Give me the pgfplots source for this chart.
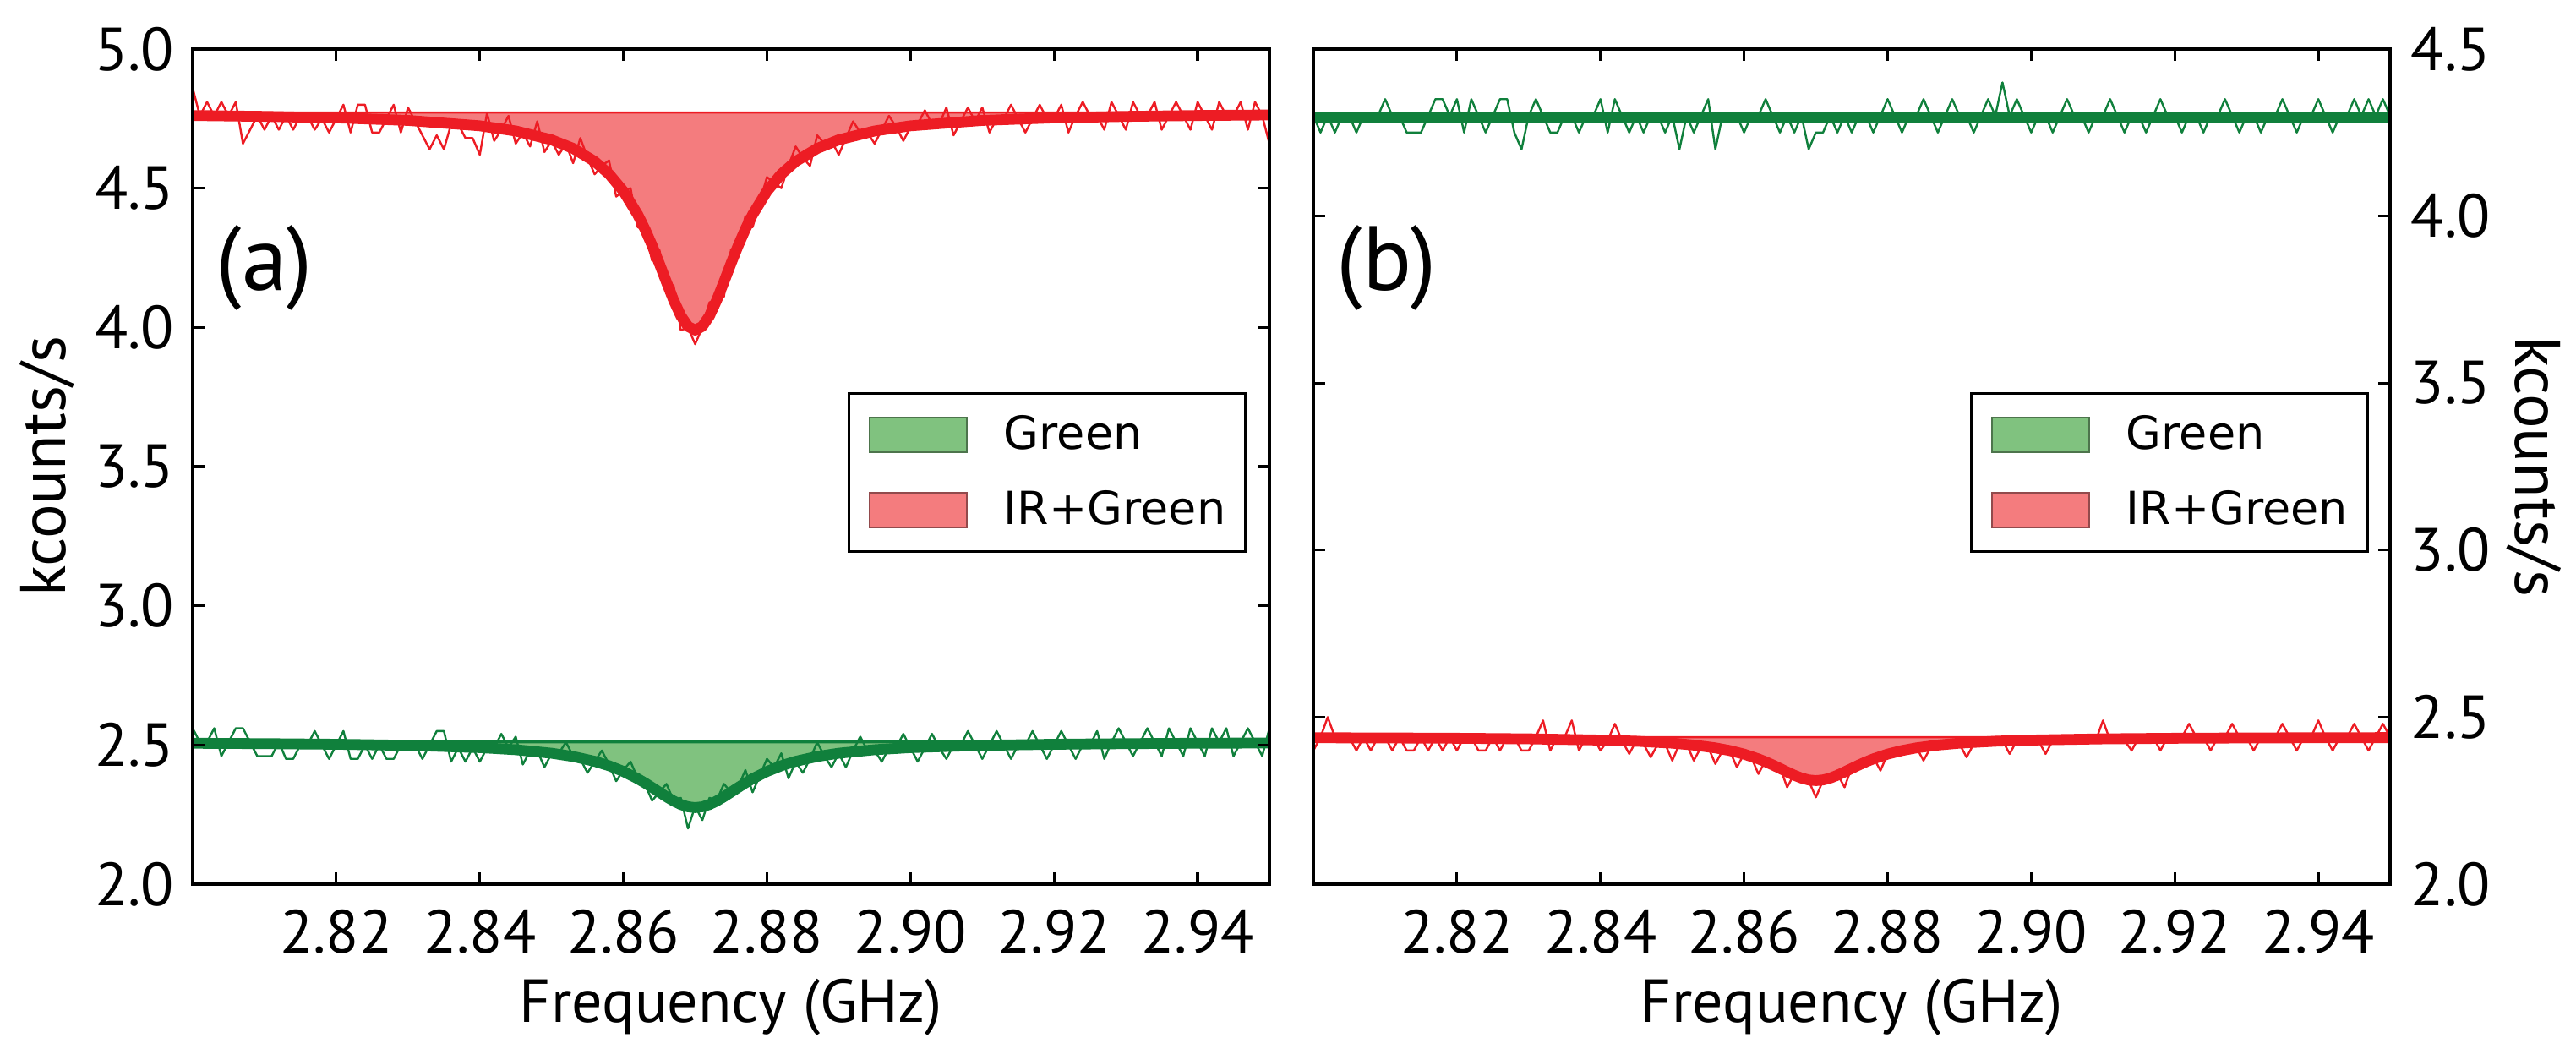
\documentclass[border=0pt]{standalone}
\usepackage{fontspec}
\setmainfont{PT Sans}
\newfontfamily\legendfont{DejaVu Sans}
\usepackage{pgfplots}
\usepackage{pgfplotstable}
\pgfplotsset{compat=1.18}
\definecolor{rline}{RGB}{237,28,36}
\definecolor{gline}{RGB}{16,128,60}
\definecolor{rfill}{RGB}{244,124,126}
\definecolor{gfill}{RGB}{128,194,127}

\pgfplotstableread{
x ra ga rb gb
2.800 4.86 2.56 2.40 4.30
2.801 4.76 2.51 2.44 4.25
2.802 4.81 2.51 2.50 4.30
2.803 4.76 2.56 2.44 4.25
2.804 4.81 2.46 2.44 4.30
2.805 4.76 2.51 2.44 4.30
2.806 4.81 2.56 2.40 4.25
2.807 4.66 2.56 2.44 4.30
2.808 4.71 2.51 2.40 4.30
2.809 4.76 2.46 2.44 4.30
2.810 4.71 2.46 2.44 4.35
2.811 4.76 2.46 2.40 4.30
2.812 4.71 2.51 2.44 4.30
2.813 4.76 2.45 2.40 4.25
2.814 4.71 2.45 2.40 4.25
2.815 4.76 2.50 2.44 4.25
2.816 4.76 2.50 2.40 4.30
2.817 4.71 2.55 2.44 4.35
2.818 4.75 2.50 2.40 4.35
2.819 4.70 2.45 2.44 4.30
2.820 4.75 2.50 2.40 4.35
2.821 4.80 2.55 2.44 4.25
2.822 4.70 2.45 2.44 4.35
2.823 4.80 2.45 2.40 4.30
2.824 4.80 2.50 2.40 4.25
2.825 4.70 2.45 2.44 4.30
2.826 4.70 2.50 2.40 4.35
2.827 4.75 2.45 2.44 4.35
2.828 4.80 2.45 2.44 4.25
2.829 4.70 2.50 2.40 4.20
2.830 4.79 2.50 2.40 4.30
2.831 4.74 2.50 2.44 4.35
2.832 4.69 2.45 2.49 4.30
2.833 4.64 2.50 2.40 4.25
2.834 4.69 2.55 2.44 4.25
2.835 4.64 2.55 2.44 4.30
2.836 4.73 2.44 2.49 4.30
2.837 4.73 2.49 2.40 4.25
2.838 4.68 2.44 2.44 4.30
2.839 4.68 2.49 2.44 4.30
2.840 4.62 2.44 2.40 4.35
2.841 4.77 2.49 2.43 4.25
2.842 4.67 2.49 2.48 4.35
2.843 4.71 2.54 2.43 4.30
2.844 4.76 2.49 2.39 4.25
2.845 4.66 2.53 2.43 4.30
2.846 4.70 2.43 2.42 4.25
2.847 4.65 2.48 2.38 4.30
2.848 4.74 2.48 2.42 4.30
2.849 4.63 2.42 2.42 4.25
2.850 4.67 2.47 2.37 4.30
2.851 4.62 2.47 2.42 4.20
2.852 4.66 2.51 2.42 4.30
2.853 4.59 2.46 2.37 4.25
2.854 4.68 2.45 2.41 4.30
2.855 4.61 2.40 2.41 4.35
2.856 4.55 2.44 2.36 4.20
2.857 4.58 2.48 2.40 4.30
2.858 4.60 2.43 2.40 4.30
2.859 4.47 2.37 2.35 4.30
2.860 4.49 2.41 2.39 4.25
2.861 4.50 2.44 2.38 4.30
2.862 4.36 2.38 2.33 4.30
2.863 4.35 2.36 2.37 4.35
2.864 4.24 2.30 2.36 4.30
2.865 4.28 2.33 2.35 4.25
2.866 4.16 2.36 2.29 4.30
2.867 4.15 2.30 2.33 4.25
2.868 3.99 2.31 2.32 4.30
2.869 4.00 2.20 2.31 4.20
2.870 3.94 2.28 2.26 4.25
2.871 4.00 2.23 2.31 4.25
2.872 4.09 2.31 2.32 4.30
2.873 4.10 2.30 2.33 4.25
2.874 4.11 2.36 2.29 4.30
2.875 4.28 2.33 2.35 4.25
2.876 4.29 2.35 2.36 4.30
2.877 4.40 2.41 2.37 4.30
2.878 4.36 2.33 2.38 4.25
2.879 4.45 2.39 2.34 4.30
2.880 4.54 2.45 2.39 4.35
2.881 4.52 2.42 2.40 4.30
2.882 4.50 2.47 2.40 4.25
2.883 4.58 2.38 2.40 4.30
2.884 4.65 2.44 2.41 4.30
2.885 4.61 2.40 2.37 4.35
2.886 4.58 2.45 2.41 4.30
2.887 4.69 2.51 2.42 4.25
2.888 4.66 2.46 2.42 4.30
2.889 4.67 2.42 2.42 4.35
2.890 4.62 2.47 2.42 4.30
2.891 4.68 2.42 2.38 4.30
2.892 4.74 2.48 2.42 4.25
2.893 4.70 2.53 2.43 4.30
2.894 4.70 2.48 2.43 4.35
2.895 4.66 2.48 2.43 4.30
2.896 4.71 2.44 2.43 4.40
2.897 4.76 2.49 2.39 4.30
2.898 4.72 2.49 2.43 4.35
2.899 4.67 2.54 2.43 4.30
2.900 4.72 2.49 2.43 4.25
2.901 4.73 2.44 2.43 4.30
2.902 4.78 2.49 2.39 4.30
2.903 4.73 2.54 2.43 4.25
2.904 4.73 2.49 2.43 4.30
2.905 4.79 2.45 2.43 4.35
2.906 4.69 2.50 2.43 4.30
2.907 4.74 2.50 2.43 4.30
2.908 4.79 2.55 2.43 4.25
2.909 4.74 2.50 2.43 4.30
2.910 4.79 2.45 2.49 4.30
2.911 4.70 2.50 2.43 4.35
2.912 4.75 2.55 2.43 4.30
2.913 4.75 2.50 2.43 4.25
2.914 4.80 2.45 2.40 4.30
2.915 4.75 2.50 2.44 4.30
2.916 4.70 2.50 2.44 4.25
2.917 4.75 2.55 2.44 4.30
2.918 4.80 2.50 2.40 4.35
2.919 4.75 2.45 2.44 4.30
2.920 4.75 2.50 2.44 4.30
2.921 4.80 2.55 2.44 4.25
2.922 4.70 2.50 2.48 4.30
2.923 4.76 2.45 2.44 4.30
2.924 4.81 2.50 2.44 4.25
2.925 4.76 2.50 2.40 4.30
2.926 4.76 2.55 2.44 4.30
2.927 4.71 2.45 2.44 4.35
2.928 4.81 2.51 2.48 4.30
2.929 4.76 2.56 2.44 4.25
2.930 4.71 2.51 2.44 4.30
2.931 4.81 2.46 2.40 4.30
2.932 4.76 2.51 2.44 4.25
2.933 4.76 2.56 2.44 4.30
2.934 4.81 2.51 2.44 4.30
2.935 4.71 2.46 2.48 4.35
2.936 4.76 2.56 2.44 4.30
2.937 4.81 2.51 2.40 4.25
2.938 4.76 2.46 2.44 4.30
2.939 4.71 2.56 2.44 4.30
2.940 4.81 2.51 2.49 4.35
2.941 4.76 2.46 2.44 4.30
2.942 4.71 2.56 2.40 4.25
2.943 4.81 2.51 2.44 4.30
2.944 4.76 2.56 2.44 4.30
2.945 4.76 2.46 2.48 4.35
2.946 4.81 2.51 2.44 4.30
2.947 4.71 2.56 2.40 4.35
2.948 4.81 2.51 2.44 4.30
2.949 4.76 2.46 2.48 4.35
2.950 4.66 2.56 2.44 4.30
}\data

% fitted curves; the last two rows of each polygon table close the shaded area at the baseline
\pgfplotstableread{
x fra fga frb
2.800 4.7612 2.5062 2.4383
2.810 4.7580 2.5048 2.4377
2.820 4.7528 2.5026 2.4368
2.830 4.7435 2.4987 2.4350
2.840 4.7241 2.4906 2.4314
2.845 4.7056 2.4830 2.4279
2.850 4.6738 2.4704 2.4221
2.853 4.6429 2.4586 2.4164
2.856 4.5961 2.4413 2.4080
2.858 4.5509 2.4254 2.4000
2.860 4.4892 2.4048 2.3893
2.862 4.4051 2.3787 2.3750
2.863 4.3531 2.3636 2.3664
2.864 4.2944 2.3473 2.3568
2.865 4.2300 2.3304 2.3465
2.866 4.1627 2.3138 2.3360
2.867 4.0976 2.2985 2.3260
2.868 4.0418 2.2861 2.3176
2.869 4.0036 2.2779 2.3120
2.870 3.9900 2.2750 2.3100
2.871 4.0036 2.2779 2.3120
2.872 4.0418 2.2861 2.3176
2.873 4.0976 2.2985 2.3260
2.874 4.1627 2.3138 2.3360
2.875 4.2300 2.3304 2.3465
2.876 4.2944 2.3473 2.3568
2.877 4.3531 2.3636 2.3664
2.878 4.4051 2.3787 2.3750
2.880 4.4892 2.4048 2.3893
2.882 4.5509 2.4254 2.4000
2.884 4.5961 2.4413 2.4080
2.887 4.6429 2.4586 2.4164
2.890 4.6738 2.4704 2.4221
2.895 4.7056 2.4830 2.4279
2.900 4.7241 2.4906 2.4314
2.910 4.7435 2.4987 2.4350
2.920 4.7528 2.5026 2.4368
2.930 4.7580 2.5048 2.4377
2.940 4.7612 2.5062 2.4383
2.950 4.7631 2.5071 2.4387
}\fits

\pgfplotstableread{
x pra pga prb
2.800 4.7612 2.5062 2.4383
2.810 4.7580 2.5048 2.4377
2.820 4.7528 2.5026 2.4368
2.830 4.7435 2.4987 2.4350
2.840 4.7241 2.4906 2.4314
2.845 4.7056 2.4830 2.4279
2.850 4.6738 2.4704 2.4221
2.853 4.6429 2.4586 2.4164
2.856 4.5961 2.4413 2.4080
2.858 4.5509 2.4254 2.4000
2.860 4.4892 2.4048 2.3893
2.862 4.4051 2.3787 2.3750
2.863 4.3531 2.3636 2.3664
2.864 4.2944 2.3473 2.3568
2.865 4.2300 2.3304 2.3465
2.866 4.1627 2.3138 2.3360
2.867 4.0976 2.2985 2.3260
2.868 4.0418 2.2861 2.3176
2.869 4.0036 2.2779 2.3120
2.870 3.9900 2.2750 2.3100
2.871 4.0036 2.2779 2.3120
2.872 4.0418 2.2861 2.3176
2.873 4.0976 2.2985 2.3260
2.874 4.1627 2.3138 2.3360
2.875 4.2300 2.3304 2.3465
2.876 4.2944 2.3473 2.3568
2.877 4.3531 2.3636 2.3664
2.878 4.4051 2.3787 2.3750
2.880 4.4892 2.4048 2.3893
2.882 4.5509 2.4254 2.4000
2.884 4.5961 2.4413 2.4080
2.887 4.6429 2.4586 2.4164
2.890 4.6738 2.4704 2.4221
2.895 4.7056 2.4830 2.4279
2.900 4.7241 2.4906 2.4314
2.910 4.7435 2.4987 2.4350
2.920 4.7528 2.5026 2.4368
2.930 4.7580 2.5048 2.4377
2.940 4.7612 2.5062 2.4383
2.950 4.7631 2.5071 2.4387
2.950 4.772 2.511 2.440
2.800 4.772 2.511 2.440
}\polys

\pgfplotsset{
  panel/.style={
    scale only axis, width=318.5pt, height=247pt,
    xmin=2.80, xmax=2.95,
    xtick={2.82,2.84,2.86,2.88,2.90,2.92,2.94},
    xticklabels={2.82,2.84,2.86,2.88,2.90,2.92,2.94},
    tick align=inside, major tick length=3.6pt,
    every tick/.style={black, line width=0.8pt},
    axis line style={black, line width=0.9pt},
    axis on top=true,
    ticklabel style={font=\fontsize{18}{20}\selectfont},
    /pgf/number format/assume math mode=true,
    /pgf/number format/fixed,
    /pgf/number format/fixed zerofill,
    /pgf/number format/precision=1,
    xticklabel style={anchor=base, inner sep=0pt, yshift=-20.5pt},
    xlabel={Frequency (GHz)},
    xlabel style={font=\fontsize{18}{20}\selectfont, at={(axis description cs:0.5,0)}, anchor=base, inner sep=0pt, yshift=-41pt},
    ylabel={kcounts/s},
    legend image code/.code={\draw[##1] (0pt,-5.125pt) rectangle (28.75pt,5.125pt);},
    legend style={draw=black, line width=0.8pt, fill=white, inner xsep=5.8pt, inner ysep=6.5pt,
      row sep=10.75pt, column sep=10.75pt,
      font=\legendfont\fontsize{13.5}{16}\selectfont, nodes={inner sep=0pt}},
    legend cell align=left,
  }
}

\begin{document}
\begin{tikzpicture}
\path[use as bounding box] (0,0) rectangle (762pt,307pt);

% ---------------- panel (a) ----------------
\begin{axis}[panel, at={(57pt,45.5pt)}, anchor=south west,
  ymin=2, ymax=5, ytick={2,2.5,3,3.5,4,4.5,5},
  yticklabel style={anchor=east, inner sep=0pt, xshift=-5.25pt},
  ylabel style={font=\fontsize{19}{22}\selectfont, at={(axis description cs:-0.1185,0.5)}, anchor=base, inner sep=0pt},
  legend style={at={(0.9788,0.5891)}, anchor=north east}]
\addplot[fill=rfill, draw=rline, line width=0.6pt, forget plot] table[x=x,y=pra]{\polys} -- cycle;
\addplot[fill=gfill, draw=gline, line width=0.8pt, forget plot] table[x=x,y=pga]{\polys} -- cycle;

\addplot[rline, line width=0.6pt, line join=round, forget plot] table[x=x,y=ra]{\data};
\addplot[gline, line width=0.6pt, line join=round, forget plot] table[x=x,y=ga]{\data};
\addplot[rline, line width=3.2pt, line join=round, forget plot] table[x=x,y=fra]{\fits};
\addplot[gline, line width=3.2pt, line join=round, forget plot] table[x=x,y=fga]{\fits};

\addlegendimage{fill=gfill, draw=gfill!60!black, line width=0.6pt}
\addlegendentry{Green}
\addlegendimage{fill=rfill, draw=rfill!60!black, line width=0.6pt}
\addlegendentry{IR+Green}

\node[anchor=west, inner sep=0pt, font=\fontsize{27}{30}\selectfont] at (rel axis cs:0.0212,0.738) {(a)};
\end{axis}

% ---------------- panel (b) ----------------
\begin{axis}[panel, at={(388.5pt,45.5pt)}, anchor=south west,
  ymin=2, ymax=4.5, ytick={2,2.5,3,3.5,4,4.5},
  ytick pos=both, yticklabel pos=right,
  yticklabel style={anchor=west, inner sep=0pt, xshift=6pt},
  ylabel style={font=\fontsize{19}{22}\selectfont, at={(axis description cs:1.1165,0.5)}, anchor=base, rotate=180, inner sep=0pt},
  legend style={at={(0.9803,0.5891)}, anchor=north east}]
\addplot[fill=rfill, draw=rline, line width=0.6pt, forget plot] table[x=x,y=prb]{\polys} -- cycle;

\addplot[gline, line width=0.6pt, line join=round, forget plot] table[x=x,y=gb]{\data};
\addplot[rline, line width=0.6pt, line join=round, forget plot] table[x=x,y=rb]{\data};
\addplot[gline, line width=3.2pt, forget plot] coordinates {(2.80,4.297) (2.95,4.297)};
\addplot[rline, line width=3.2pt, line join=round, forget plot] table[x=x,y=frb]{\fits};

\addlegendimage{fill=gfill, draw=gfill!60!black, line width=0.6pt}
\addlegendentry{Green}
\addlegendimage{fill=rfill, draw=rfill!60!black, line width=0.6pt}
\addlegendentry{IR+Green}

\node[anchor=west, inner sep=0pt, font=\fontsize{27}{30}\selectfont] at (rel axis cs:0.0212,0.738) {(b)};
\end{axis}
\end{tikzpicture}
\end{document}
